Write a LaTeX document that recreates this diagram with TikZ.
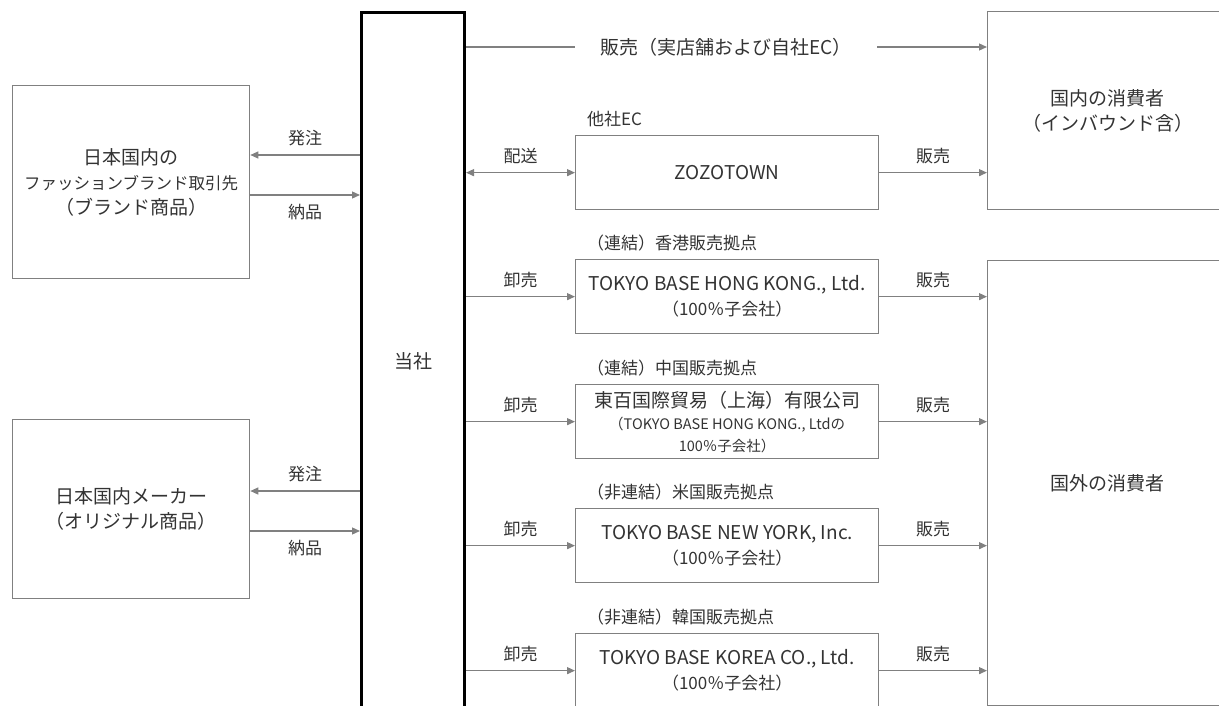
\documentclass[tikz,border=0pt]{standalone}
\usepackage{fontspec}
\setmainfont{Noto Sans CJK JP}
\usetikzlibrary{arrows.meta,calc}
\definecolor{txt}{HTML}{333333}
\definecolor{ln}{HTML}{808080}
\newcommand\fmain{\fontsize{19}{25}\selectfont}
\newcommand\fnarrow{\fontsize{16.5}{25}\selectfont}
\newcommand\fsub{\fontsize{17}{23}\selectfont}
\newcommand\fsmall{\fontsize{14.5}{19}\selectfont}
\newcommand\flab{\fontsize{17}{20}\selectfont}
\begin{document}
\begin{tikzpicture}[x=1pt,y=-1pt,
  every node/.style={text=txt},
  box/.style={draw=ln,line width=1.3pt,inner sep=0pt,anchor=north west,align=center,font=\fmain},
  mainbox/.style={draw=black,line width=3pt,inner sep=0pt,anchor=north west,align=center,font=\fmain},
  conn/.style={draw=ln,line width=1.3pt},
  arr/.style={conn,-{Triangle[length=8pt,width=7pt]}},
  darr/.style={conn,{Triangle[length=8pt,width=7pt]}-{Triangle[length=8pt,width=7pt]}},
  lab/.style={font=\flab,inner sep=0pt},
  head/.style={font=\flab,inner sep=0pt,anchor=west},
]
\useasboundingbox (0,0) rectangle (1219,706);
\clip (0,0) rectangle (1219,706);

% boxes
\node[mainbox,minimum width=103pt,minimum height=698pt] (tosha) at (360,11) {当社};
\node[box,minimum width=237pt,minimum height=193pt] (supA) at (12,85)
  {日本国内の\\\fnarrow ファッションブランド取引先\\（ブランド商品）};
\node[box,minimum width=237pt,minimum height=179pt] (supB) at (12,419)
  {日本国内メーカー\\（オリジナル商品）};
\node[box,minimum width=240pt,minimum height=198pt] (dom) at (987,11)
  {国内の消費者\\（インバウンド含）};
\node[box,minimum width=240pt,minimum height=445pt] (intl) at (987,260)
  {国外の消費者};
\node[box,minimum width=303pt,minimum height=74pt] (zozo) at (575,135) {ZOZOTOWN};
\node[box,minimum width=303pt,minimum height=74pt] (hk) at (575,259)
  {TOKYO BASE HONG KONG., Ltd.\\\fsub（100％子会社）};
\node[box,minimum width=303pt,minimum height=74pt] (cn) at (575,384)
  {東百国際貿易（上海）有限公司\\[-3pt]\fsmall（TOKYO BASE HONG KONG., Ltdの\\[-3pt]\fsmall 100％子会社）};
\node[box,minimum width=303pt,minimum height=74pt] (ny) at (575,508)
  {TOKYO BASE NEW YORK, Inc.\\\fsub（100％子会社）};
\node[box,minimum width=303pt,minimum height=74pt] (kr) at (575,633)
  {TOKYO BASE KOREA CO., Ltd.\\\fsub（100％子会社）};

% headings above boxes
\node[head] (hz) at ($(zozo.north west)+(12,-16)$) {他社EC};
\node[head] (hh) at ($(hk.north west)+(12,-16)$) {（連結）香港販売拠点};
\node[head] (hc) at ($(cn.north west)+(12,-16)$) {（連結）中国販売拠点};
\node[head] (hn) at ($(ny.north west)+(12,-16)$) {（非連結）米国販売拠点};
\node[head] (hr) at ($(kr.north west)+(12,-16)$) {（非連結）韓国販売拠点};

% top sales line
\node[font=\fmain,inner sep=0pt,minimum width=302pt] (toplab) at (726,47) {販売（実店舗および自社EC）};
\draw[conn] (tosha.east |- toplab) -- (toplab.west);
\draw[arr] (toplab.east) -- (dom.west |- toplab);

% suppliers
\draw[arr] (tosha.west |- 0,155) -- node[lab,above=8pt] {発注} (supA.east |- 0,155);
\draw[arr] (supA.east |- 0,195) -- node[lab,below=9pt] {納品} (tosha.west |- 0,195);
\draw[arr] (tosha.west |- 0,491) -- node[lab,above=8pt] {発注} (supB.east |- 0,491);
\draw[arr] (supB.east |- 0,531) -- node[lab,below=9pt] {納品} (tosha.west |- 0,531);

% to subsidiaries
\draw[darr] (tosha.east |- zozo.west) -- node[lab,above=8pt] {配送} (zozo.west);
\draw[arr] (tosha.east |- hk.west) -- node[lab,above=8pt] {卸売} (hk.west);
\draw[arr] (tosha.east |- cn.west) -- node[lab,above=8pt] {卸売} (cn.west);
\draw[arr] (tosha.east |- ny.west) -- node[lab,above=8pt] {卸売} (ny.west);
\draw[arr] (tosha.east |- kr.west) -- node[lab,above=8pt] {卸売} (kr.west);

% to consumers
\draw[arr] (zozo.east) -- node[lab,above=8pt] {販売} (dom.west |- zozo.east);
\draw[arr] (hk.east) -- node[lab,above=8pt] {販売} (intl.west |- hk.east);
\draw[arr] (cn.east) -- node[lab,above=8pt] {販売} (intl.west |- cn.east);
\draw[arr] (ny.east) -- node[lab,above=8pt] {販売} (intl.west |- ny.east);
\draw[arr] (kr.east) -- node[lab,above=8pt] {販売} (intl.west |- kr.east);
\end{tikzpicture}
\end{document}
